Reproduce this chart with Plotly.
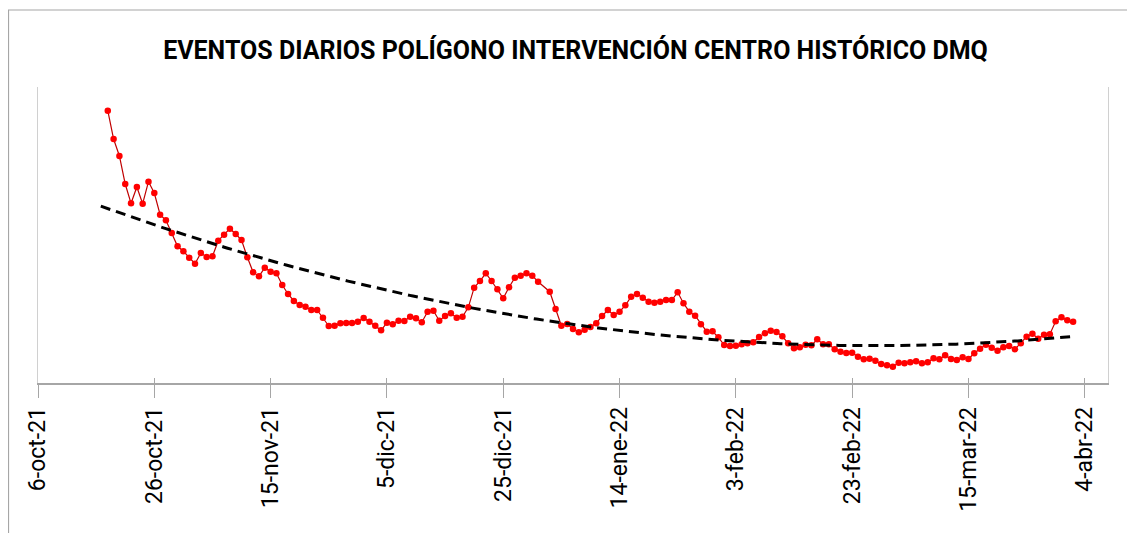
import pandas as pd
import numpy as np
import plotly.graph_objects as go

title = "EVENTOS DIARIOS POLÍGONO INTERVENCIÓN CENTRO HISTÓRICO DMQ"
start_date = "2021-10-18"
values = [
    272.3, 244, 227, 199, 179.7, 196, 179.3, 201.3, 190, 168.3,
    162.7, 150, 136.7, 131.7, 125.3, 119.3, 130, 126, 126.7, 142.3,
    148.3, 154.3, 149, 143, 125.7, 110.7, 106.7, 115.3, 111.3, 109.7,
    98, 89, 82, 78, 76.3, 73, 73, 65.3, 57, 57.3,
    59.7, 60, 60, 61.3, 65, 61.3, 57.3, 52.7, 60.3, 58.7,
    62.3, 62, 66.3, 64.7, 60.8, 71.3, 72.3, 62.3, 67, 69.7,
    65.3, 66.3, 75.7, 95.3, 102, 109.7, 102, 93.7, 84.7, 95.7,
    105.3, 107.3, 109.7, 107.3, 101.3, None, 91.3, 74, 57.3, 59,
    54, 50.7, 53.3, 56, 59.7, 67, 73, 68, 71.3, 77.7,
    86.3, 89, 85.3, 81.3, 80.3, 81.3, 83, 83, 90.7, 79.7,
    71.3, 67.3, 58.7, 51.3, 51.7, 45.7, 38, 37, 37.3, 38.7,
    39.7, 40.7, 46, 49.7, 52.3, 51, 46.7, 39.7, 34.7, 35.7,
    38.3, 37.7, 43.7, 38.7, 38.7, 33.7, 31.3, 30, 30.3, 26.3,
    23.7, 24.3, 22.3, 19, 17.7, 16.3, 20.3, 19.7, 20.7, 21.8,
    19.7, 20.7, 24.7, 23.7, 27.7, 24, 23, 25.7, 24, 29.7,
    34.3, 38.3, 35.3, 32.3, 35.7, 37, 33.7, 39.7, 46.3, 49.3,
    44.3, 48.3, 48.7, 61.7, 65.7, 62.7, 61.3,
]
tick_dates = ["2021-10-06", "2021-10-26", "2021-11-15", "2021-12-05", "2021-12-25",
              "2022-01-14", "2022-02-03", "2022-02-23", "2022-03-15", "2022-04-04"]
tick_labels = ["6-oct-21", "26-oct-21", "15-nov-21", "5-dic-21", "25-dic-21",
               "14-ene-22", "3-feb-22", "23-feb-22", "15-mar-22", "4-abr-22"]

dates = pd.date_range(start_date, periods=len(values), freq="D")
y = np.array([np.nan if v is None else v for v in values], dtype=float)
idx = np.arange(len(values))
mask = ~np.isnan(y)
coef = np.polyfit(idx[mask], y[mask], 2)
t_idx = np.linspace(-1.2, len(values) - 1, 300)
t_dates = pd.Timestamp(start_date) + pd.to_timedelta(t_idx, unit="D")
trend = np.polyval(coef, t_idx)

fig = go.Figure()
fig.add_trace(go.Scatter(
    x=dates, y=y, mode="lines+markers", connectgaps=True,
    line=dict(color="#c00000", width=1.2),
    marker=dict(color="#ff0000", size=6.5),
    showlegend=False,
))
fig.add_trace(go.Scatter(
    x=t_dates, y=trend, mode="lines",
    line=dict(color="black", width=3, dash="10px,6px"),
    showlegend=False,
))

# page has an 8px body margin; margins compensate for it
L, R, T, B = 30, 35, 79, 158
W, H = 1135, 533
pw, ph = W - L - R, H - T - B
xr = [pd.Timestamp("2021-10-06"), pd.Timestamp("2022-04-08")]
fig.update_layout(
    width=W, height=H,
    margin=dict(l=L, r=R, t=T, b=B),
    paper_bgcolor="white", plot_bgcolor="white",
    title=dict(text=f"<b>{title}</b>", x=0.5, xanchor="center",
               y=1 - 42 / H, yanchor="middle",
               font=dict(family="Roboto", size=25, color="black")),
    xaxis=dict(range=xr, tickmode="array", tickvals=tick_dates, ticktext=tick_labels,
               tickangle=-90, ticks="outside", ticklen=13, tickcolor="#a6a6a6",
               showline=True, linecolor="#a6a6a6", linewidth=1.5, mirror=False,
               showgrid=False, zeroline=False,
               tickfont=dict(family="Roboto, Liberation Sans, Arial", size=23, color="black")),
    xaxis2=dict(range=xr, overlaying="x", side="bottom", tickmode="array", tickvals=tick_dates,
                ticks="inside", ticklen=5, tickcolor="#a6a6a6", showticklabels=False,
                showgrid=False, zeroline=False, showline=False),
    yaxis=dict(range=[0, 296], showticklabels=False, ticks="", showgrid=False, zeroline=False,
               showline=True, linecolor="#d0d0d0", linewidth=1.2, mirror=True),
    shapes=[dict(type="rect", xref="paper", yref="paper",
                 x0=(0.5 - L) / pw, x1=(W + 20 - L) / pw,
                 y0=(H - B - (H + 20)) / ph, y1=(H - B - 2) / ph,
                 line=dict(color="#a6a6a6", width=1.2), fillcolor="rgba(0,0,0,0)", layer="below")],
)
fig.add_trace(go.Scatter(x=[xr[0]], y=[None], xaxis="x2", showlegend=False, hoverinfo="skip"))
fig.write_html("out.html")
